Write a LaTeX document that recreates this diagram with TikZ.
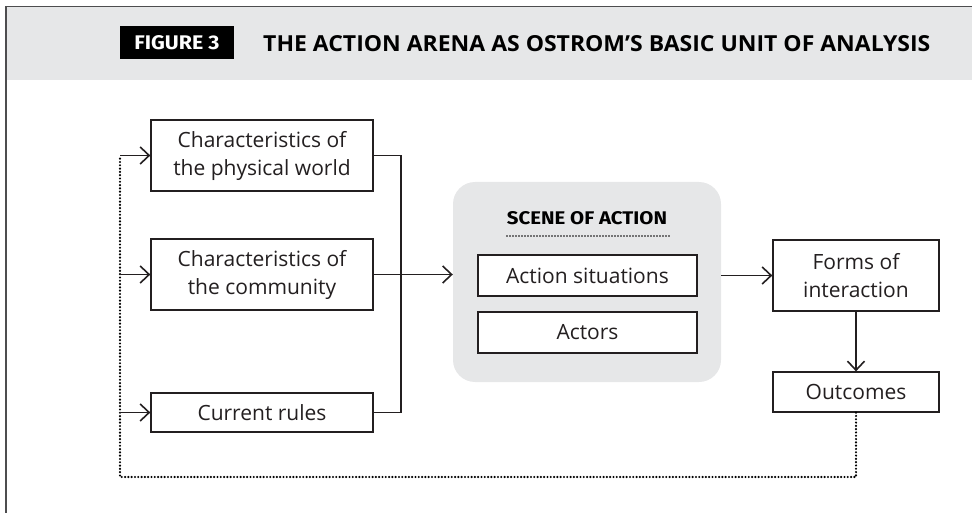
\documentclass[tikz,border=0pt]{standalone}
\usepackage{fontspec}
\usepackage{graphicx}
\setmainfont{Open Sans}
\newfontfamily\firafont{Fira Sans}
\usetikzlibrary{arrows.meta}
\definecolor{bandgray}{HTML}{E6E7E8}
\definecolor{inkc}{HTML}{231F20}
\definecolor{framec}{HTML}{4D4D4F}
\tikzset{
  boxnode/.style={draw=inkc, line width=1.3pt, fill=white, rectangle, align=center,
    inner sep=0pt, font=\fontsize{21}{28}\selectfont, text=inkc},
  conn/.style={draw=inkc, line width=1.6pt},
  arr/.style={conn, -{Straight Barb[length=9pt,width=17pt,line width=1.6pt]}},
  dotline/.style={draw=black, line width=2.4pt, line cap=round, dash pattern=on 0pt off 3.3pt},
}
\begin{document}
\begin{tikzpicture}[x=1pt,y=-1pt]
\useasboundingbox (0,0) rectangle (972,513);
% header band and frame
\fill[bandgray] (6,6.5) rectangle (972,80.5);
\draw[framec, line width=1.4pt] (6,513) -- (6,6.5) -- (972,6.5);
\node[fill=black, minimum width=114pt, minimum height=33pt, inner sep=0pt] (fig) at (177,42.5)
  {\textcolor{white}{\resizebox{85pt}{14pt}{\firafont\bfseries FIGURE 3}}};
\node[inner sep=0pt, anchor=west] (title) at (263,43.5)
  {\textcolor{black}{\resizebox{667pt}{16pt}{\bfseries THE ACTION ARENA AS OSTROM’S BASIC UNIT OF ANALYSIS}}};
% left boxes
\node[boxnode, minimum width=222pt, minimum height=71pt] (b1) at (262,155.5) {Characteristics of\\the physical world};
\node[boxnode, minimum width=222pt, minimum height=71pt] (b2) at (262,274.5) {Characteristics of\\the community};
\node[boxnode, minimum width=222pt, minimum height=39pt] (b3) at (262,412.5) {Current rules};
% scene of action
\node[fill=bandgray, rounded corners=22pt, minimum width=268pt, minimum height=200pt, inner sep=0pt] (scene) at (587,282) {};
\node[inner sep=0pt] (scenet) at (587,218) {\textcolor{black}{\resizebox{160pt}{13pt}{\firafont\bfseries SCENE OF ACTION}}};
\coordinate (dl) at (507,236);
\coordinate (dr) at (669,236);
\draw[draw=black, line width=1.6pt, line cap=round, dash pattern=on 0pt off 3pt] (dl) -- (dr);
\node[boxnode, minimum width=219pt, minimum height=41pt] (as) at (587.5,275.5) {Action situations};
\node[boxnode, minimum width=219pt, minimum height=41pt] (ac) at (587.5,332.5) {Actors};
% right boxes
\node[boxnode, minimum width=166pt, minimum height=71pt] (fi) at (856,275.5) {Forms of\\interaction};
\node[boxnode, minimum width=166pt, minimum height=40pt] (ou) at (856,392) {Outcomes};
% connectors
\coordinate (j) at (401,274.5);
\draw[conn] (b1.east) -| (j);
\draw[conn] (b3.east) -| (j);
\draw[arr] (b2.east) -- (scene.west |- b2.east);
\draw[arr] (scene.east |- fi.west) -- (fi.west);
\draw[arr] (fi.south) -- (ou.north);
% feedback loop
\coordinate (fb) at (120,477);
\coordinate (ft) at (120,155.5);
\draw[dotline] (ou.south) |- (fb) -- (ft);
\draw[arr] (ft) -- (b1.west);
\draw[arr] (b2.west -| ft) -- (b2.west);
\draw[arr] (b3.west -| ft) -- (b3.west);
\end{tikzpicture}
\end{document}
